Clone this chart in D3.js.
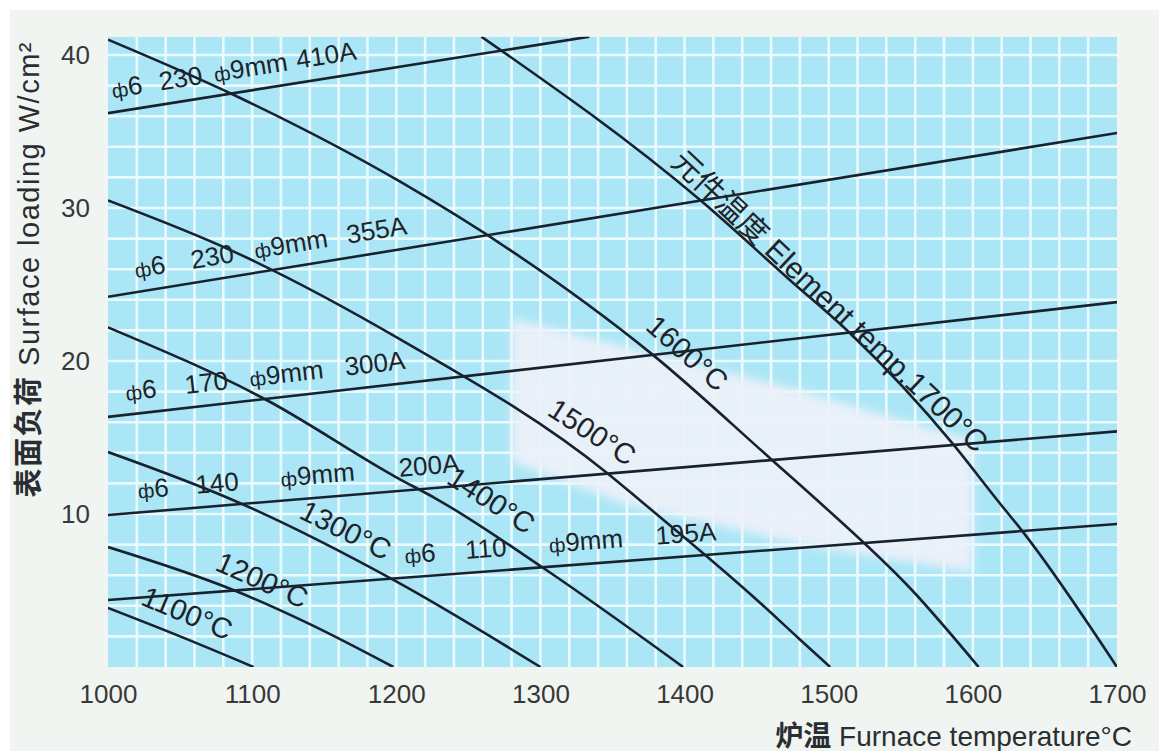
<!DOCTYPE html>
<html>
<head>
<meta charset="utf-8">
<script src="https://cdn.jsdelivr.net/npm/d3@7"></script>
<style>
  html, body { margin: 0; padding: 0; background: #fff; }
  svg { display: block; font-family: "Liberation Sans", Arial, "Noto Sans CJK SC", sans-serif; }
</style>
</head>
<body>
<div id="chart"></div>
<script>
// element temperature curves: [furnace temp °C, surface loading W/cm2]
const curve1100 = [[1000, 3.86], [1050, 2.0], [1101, 0]];
const curve1200 = [[1000, 7.84], [1087, 5.03], [1140, 2.8], [1198, 0]];
const curve1300 = [[1000, 14.05], [1087, 10.9], [1198, 5.69], [1300, 0]];
const curve1400 = [[1000, 22.2], [1110, 17.45], [1200, 12.4], [1228, 10.98], [1302, 6.47], [1399, 0]];
const curve1500 = [[1000, 30.5], [1085, 27.25], [1203, 21.4], [1346, 12.7], [1369, 10.9], [1450, 4.4], [1480, 1.8], [1501, 0]];
const curve1600 = [[1000, 41.0], [1087, 37.4], [1203, 31.7], [1279, 27.25], [1378, 20.4], [1461, 13.5], [1492, 10.9], [1558, 5.0], [1604, 0]];
const curve1700 = [[1259, 41.2], [1411, 30.5], [1473, 25.3], [1515, 21.8], [1586, 14.6], [1617, 10.9], [1635, 8.8], [1700, 0]];

// wire current lines (straight)
const line410A = [[1000, 36.2], [1334, 41.2]];
const line355A = [[1000, 24.2], [1700, 34.9]];
const line300A = [[1000, 16.35], [1700, 23.85]];
const line200A = [[1000, 9.93], [1700, 15.4]];
const line195A = [[1000, 4.38], [1700, 9.35]];

// lighter recommended zone
const bandRegion = [[1280, 22.8], [1480, 18.1], [1600, 14.8], [1600, 6.2], [1480, 8.0], [1360, 10.6], [1280, 13.4]];

const xTicks = [1000, 1100, 1200, 1300, 1400, 1500, 1600, 1700];
const yTicks = [10, 20, 30, 40];

// curve labels: text, anchor (temp, loading)
const tempLabels = [
  { curve: curve1100, text: "1100°C", at: [1055, 3.53] },
  { curve: curve1200, text: "1200°C", at: [1107, 5.69] },
  { curve: curve1300, text: "1300°C", at: [1165, 8.95] },
  { curve: curve1400, text: "1400°C", at: [1266, 10.9] },
  { curve: curve1500, text: "1500°C", at: [1336, 15.36] },
  { curve: curve1600, text: "1600°C", at: [1402, 20.52] },
  { curve: curve1700, text: "元件温度 Element temp.1700°C", at: [1501, 23.9], big: true },
];

// wire labels: words and the temperature where each word starts
const wireLabels = [
  { line: line410A, words: ["ф6", "230", "ф9mm", "410A"], at: [1005, 1038, 1076, 1133] },
  { line: line355A, words: ["ф6", "230", "ф9mm", "355A"], at: [1021, 1060, 1104, 1168] },
  { line: line300A, words: ["ф6", "170", "ф9mm", "300A"], at: [1014, 1055, 1100, 1166] },
  { line: line200A, words: ["ф6", "140", "ф9mm", "200A"], at: [1022, 1062, 1121, 1203] },
  { line: line195A, words: ["ф6", "110", "ф9mm", "195A"], at: [1207, 1249, 1307, 1381] },
];

class LoadingChart {
  constructor(_config) {
    this.config = {
      parentElement: _config.parentElement,
      width: _config.width || 1159,
      height: _config.height || 751,
    };
    this.initVis();
  }

  /**
   * scales, background, grid
   */
  initVis() {
    let vis = this;

    vis.x = d3.scaleLinear().domain([1000, 1700]).range([108, 1117]);
    vis.y = d3.scaleLinear().domain([0, 40]).range([667, 55]);
    vis.yTop = 41.2;

    vis.svg = d3
      .select(vis.config.parentElement)
      .append("svg")
      .attr("width", vis.config.width)
      .attr("height", vis.config.height);

    vis.svg.append("rect").attr("width", vis.config.width).attr("height", vis.config.height).attr("fill", "#fff");
    vis.svg
      .append("rect")
      .attr("x", 10)
      .attr("y", 10)
      .attr("width", vis.config.width - 10)
      .attr("height", vis.config.height - 10)
      .attr("fill", "#f1f5f1");

    const defs = vis.svg.append("defs");
    defs
      .append("clipPath")
      .attr("id", "plot-clip")
      .append("rect")
      .attr("x", vis.x(1000))
      .attr("y", vis.y(vis.yTop))
      .attr("width", vis.x(1700) - vis.x(1000))
      .attr("height", vis.y(0) - vis.y(vis.yTop));
    defs.append("filter").attr("id", "soft").attr("x", "-20%").attr("y", "-20%").attr("width", "140%").attr("height", "140%")
      .append("feGaussianBlur").attr("stdDeviation", 5);

    vis.plot = vis.svg.append("g").attr("clip-path", "url(#plot-clip)");

    vis.plot
      .append("rect")
      .attr("x", vis.x(1000))
      .attr("y", vis.y(vis.yTop))
      .attr("width", vis.x(1700) - vis.x(1000))
      .attr("height", vis.y(0) - vis.y(vis.yTop))
      .attr("fill", "#abe6f6");

    // white grid: every 20 °C and every 2 W/cm2
    const gx = d3.range(1020, 1700, 20);
    const gy = d3.range(2, 41, 2);
    vis.plot
      .selectAll(".gx")
      .data(gx)
      .join("line")
      .attr("x1", (d) => vis.x(d))
      .attr("x2", (d) => vis.x(d))
      .attr("y1", vis.y(vis.yTop))
      .attr("y2", vis.y(0))
      .attr("stroke", "#e9fbff")
      .attr("stroke-width", 2.6);
    vis.plot
      .selectAll(".gy")
      .data(gy)
      .join("line")
      .attr("x1", vis.x(1000))
      .attr("x2", vis.x(1700))
      .attr("y1", (d) => vis.y(d))
      .attr("y2", (d) => vis.y(d))
      .attr("stroke", "#e9fbff")
      .attr("stroke-width", 2.6);

    vis.plot
      .append("path")
      .datum(bandRegion)
      .attr("d", d3.line().x((d) => vis.x(d[0])).y((d) => vis.y(d[1])).curve(d3.curveLinearClosed))
      .attr("fill", "#eef1f9")
      .attr("opacity", 0.92)
      .attr("filter", "url(#soft)");

    vis.renderVis();
  }

  /**
   * angle in degrees of a polyline at temperature t, in screen space
   */
  angleAt(pts, t) {
    let vis = this;
    let i = 0;
    while (i < pts.length - 2 && pts[i + 1][0] < t) i++;
    const p0 = pts[i], p1 = pts[i + 1];
    return (Math.atan2(vis.y(p1[1]) - vis.y(p0[1]), vis.x(p1[0]) - vis.x(p0[0])) * 180) / Math.PI;
  }

  renderVis() {
    let vis = this;
    const curveGen = d3.line().x((d) => vis.x(d[0])).y((d) => vis.y(d[1])).curve(d3.curveMonotoneX);
    const allLines = [curve1100, curve1200, curve1300, curve1400, curve1500, curve1600, curve1700,
      line410A, line355A, line300A, line200A, line195A];

    vis.plot
      .selectAll(".curve")
      .data(allLines)
      .join("path")
      .attr("class", "curve")
      .attr("d", curveGen)
      .attr("fill", "none")
      .attr("stroke", "#18222e")
      .attr("stroke-width", 2.6);

    // labels along wire lines
    wireLabels.forEach((lab) => {
      const [a, b] = lab.line;
      const ang = vis.angleAt(lab.line, lab.at[0]);
      lab.words.forEach((w, i) => {
        const t = lab.at[i];
        const v = a[1] + ((t - a[0]) * (b[1] - a[1])) / (b[0] - a[0]);
        const txt = vis.svg
          .append("text")
          .attr("transform", `translate(${vis.x(t)},${vis.y(v)}) rotate(${ang})`)
          .attr("y", -14)
          .attr("font-size", 26)
          .attr("fill", "#1e232a");
        if (w.startsWith("ф")) {
          txt.append("tspan").attr("font-size", 20).text("ф");
          txt.append("tspan").text(w.slice(1));
        } else {
          txt.text(w);
        }
      });
    });

    // temperature labels
    tempLabels.forEach((lab) => {
      const ang = vis.angleAt(lab.curve, lab.at[0]) + (lab.big ? 2 : 0);
      vis.svg
        .append("text")
        .attr("transform", `translate(${vis.x(lab.at[0])},${vis.y(lab.at[1])}) rotate(${ang})`)
        .attr("text-anchor", "middle")
        .attr("dy", "0.35em")
        .attr("font-size", lab.big ? 30 : 29)
        .attr("fill", "#1e232a")
        .text(lab.text);
    });

    // axes
    const xAxis = vis.svg
      .append("g")
      .attr("transform", `translate(0,${vis.y(0)})`)
      .call(d3.axisBottom(vis.x).tickValues(xTicks).tickSize(0).tickPadding(18).tickFormat(d3.format("d")));
    const yAxis = vis.svg
      .append("g")
      .attr("transform", `translate(${vis.x(1000)},0)`)
      .call(d3.axisLeft(vis.y).tickValues(yTicks).tickSize(0).tickPadding(18));
    [xAxis, yAxis].forEach((g) => {
      g.select(".domain").remove();
      g.selectAll("text").attr("font-size", 26).attr("fill", "#383838").attr("font-family", null);
    });

    // axis titles
    const yt = vis.svg
      .append("text")
      .attr("transform", `translate(39,${(500 + 40) / 2}) rotate(-90)`)
      .attr("text-anchor", "middle")
      .attr("font-size", 29)
      .attr("textLength", 455)
      .attr("fill", "#2a2e33");
    yt.append("tspan").attr("font-weight", 700).text("表面负荷");
    yt.append("tspan").text(" Surface loading W/cm²");

    const xt = vis.svg
      .append("text")
      .attr("x", 1132)
      .attr("y", 746)
      .attr("text-anchor", "end")
      .attr("font-size", 28)
      .attr("fill", "#2a2e33");
    xt.append("tspan").attr("font-weight", 700).text("炉温");
    xt.append("tspan").text(" Furnace temperature°C");
  }
}

new LoadingChart({ parentElement: "#chart" });
</script>
</body>
</html>
